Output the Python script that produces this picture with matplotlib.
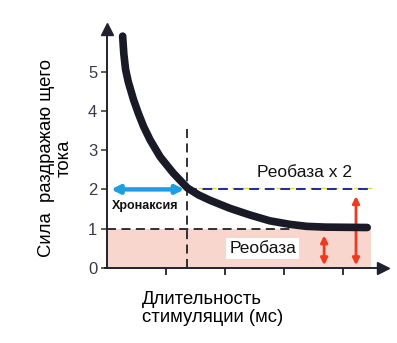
import matplotlib
matplotlib.use("Agg")
import matplotlib.pyplot as plt
from matplotlib.patches import Rectangle

plt.rcParams['font.family'] = ['Liberation Sans', 'DejaVu Sans']

# Data
curve_x = [0.265, 0.285, 0.315, 0.36, 0.45, 0.53, 0.62, 0.73, 0.90, 1.12, 1.36, 1.55, 1.75, 2.08, 2.42, 2.76, 3.10, 3.38, 3.70, 4.41]
curve_y = [5.90, 5.45, 5.05, 4.74, 4.28, 3.94, 3.60, 3.26, 2.83, 2.42, 2.04, 1.86, 1.72, 1.52, 1.35, 1.20, 1.11, 1.06, 1.04, 1.03]
y_ticks = [0, 1, 2, 3, 4, 5]
x_ticks = [1, 2, 3, 4]
rheobase = 1.0
chronaxie = 1.36
arrow_x = [3.68, 4.22]
arrow_top = [1.0, 2.0]

fig = plt.figure(figsize=(3.97, 3.43), dpi=100)
ax = fig.add_axes([0.2621, 0.1958, 0.7134, 0.7332])
ax.set_xlim(-0.05, 4.75)
ax.set_ylim(-0.2, 6.2)

axis_col = '#22222e'
for s in ['top', 'right']:
    ax.spines[s].set_visible(False)
ax.spines['left'].set_position(('data', 0))
ax.spines['bottom'].set_position(('data', 0))
ax.spines['left'].set_bounds(0, 6.0)
ax.spines['bottom'].set_bounds(-0.03, 4.62)
for s in ['left', 'bottom']:
    ax.spines[s].set_linewidth(1.4)
    ax.spines[s].set_color(axis_col)
ax.plot([0], [6.08], marker='^', color=axis_col, markersize=8, clip_on=False, zorder=6)
ax.plot([4.68], [0], marker='>', color=axis_col, markersize=8, clip_on=False, zorder=6)

ax.set_yticks(y_ticks)
ax.set_yticklabels([str(v) for v in y_ticks], fontsize=12, color='#3a3a48')
ax.set_xticks(x_ticks)
ax.set_xticklabels([])
ax.tick_params(axis='y', direction='out', length=4, width=1.3, color='#555533', pad=3)
ax.tick_params(axis='x', direction='out', length=5, width=1.3, color=axis_col)

# pink rheobase region
ax.add_patch(Rectangle((0, 0), 4.47, rheobase, facecolor='#f8d5cd', edgecolor='none', zorder=1))

# dashed lines
ax.plot([0, 3.1], [rheobase, rheobase], ls=(0, (5, 3)), color='#222222', lw=1.3, zorder=3)
ax.plot([chronaxie, chronaxie], [0, 3.6], ls=(0, (5, 3)), color='#222222', lw=1.3, zorder=3)
ax.plot([chronaxie, 4.49], [2.04, 2.04], ls=(0, (5, 3)), color='#e8d840', lw=1.0, zorder=3)
ax.plot([chronaxie, 4.49], [2.0, 2.0], ls=(0, (5, 3)), color='#1c2a9c', lw=1.4, zorder=3)

# curve
ax.plot(curve_x, curve_y, color='#1a1a26', lw=5.5, solid_capstyle='round', solid_joinstyle='round', zorder=5)

# chronaxie arrow
ax.annotate('', xy=(0.02, 2.0), xytext=(chronaxie, 2.0),
            arrowprops=dict(arrowstyle='<|-|>', color='#1e9fe0', lw=3.2, mutation_scale=12), zorder=4)

# red arrows
for xa, top in zip(arrow_x, arrow_top):
    ax.annotate('', xy=(xa, 0.0), xytext=(xa, top - 0.1),
                arrowprops=dict(arrowstyle='<|-|>', color='#f03a20', lw=2, mutation_scale=10), zorder=4)

# labels
ax.text(0.08, 1.57, 'Хронаксия', fontsize=9, fontweight='bold', color='#111111', va='center', ha='left',
        bbox=dict(facecolor='white', edgecolor='none', pad=2), zorder=4)
ax.text(2.55, 2.43, 'Реобаза х 2', fontsize=12.5, color='#111111', va='center', ha='left', zorder=4)
ax.text(2.07, 0.5, 'Реобаза', fontsize=12.5, color='#111111', va='center', ha='left',
        bbox=dict(facecolor='white', edgecolor='none', pad=2), zorder=4)

fig.text(142 / 397, 1 - 299 / 343, 'Длительность', fontsize=13.3, ha='left', va='center')
fig.text(142 / 397, 1 - 318 / 343, 'стимуляции (мс)', fontsize=13.3, ha='left', va='center')
fig.text(55 / 397, 1 - 158 / 343, 'Сила  раздражаю щего\nтока', fontsize=13.3, rotation=90,
         ha='center', va='center', multialignment='center', linespacing=1.05)

fig.savefig('out.png', dpi=100)
